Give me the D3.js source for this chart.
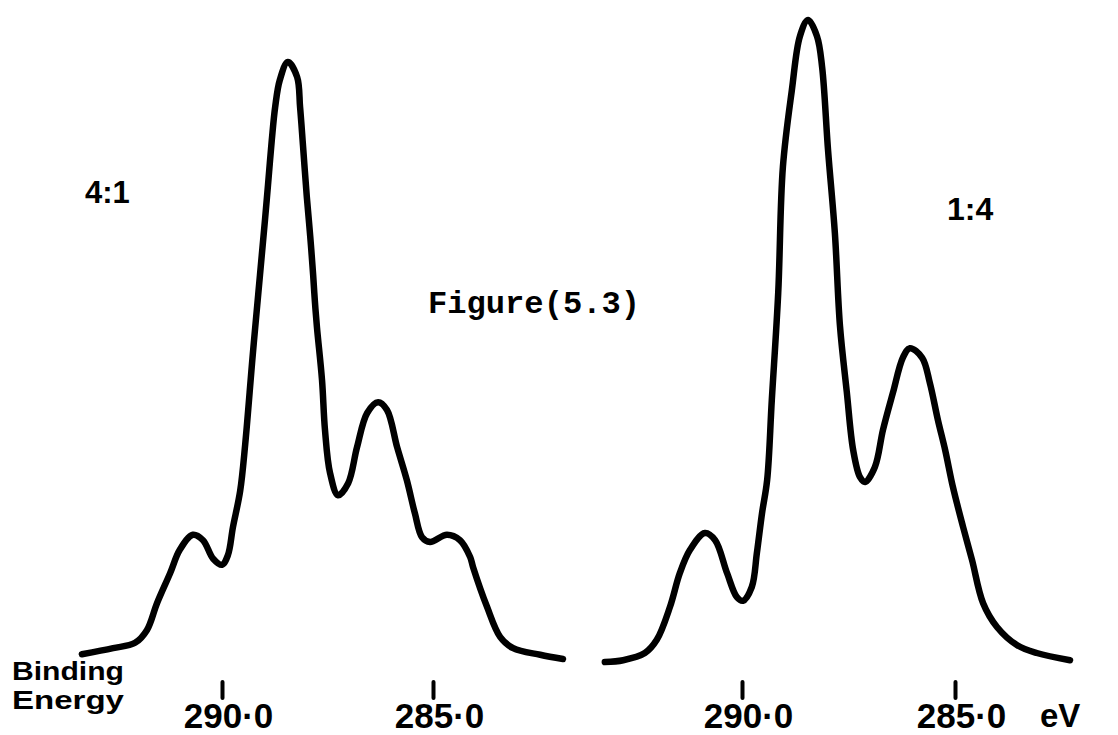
<!DOCTYPE html>
<html>
<head>
<meta charset="utf-8">
<script src="https://cdn.jsdelivr.net/npm/d3@7"></script>
<style>
  html, body { margin: 0; padding: 0; background: #fff; }
  svg { display: block; }
</style>
</head>
<body>
<svg id="chart" width="1118" height="735"></svg>
<script>
// C 1s photoelectron spectra of two blend compositions (binding energy in eV, relative counts)
const leftEnergy = [293.32, 292.58, 292.06, 291.78, 291.54, 291.23, 291.00, 290.69, 290.45, 290.21,
  290.00, 289.86, 289.74, 289.57, 289.45, 289.27, 289.10, 288.98, 288.91,
  288.82, 288.74, 288.63, 288.44, 288.22, 288.15, 288.08, 287.99, 287.91, 287.84,
  287.80, 287.75, 287.63, 287.56, 287.44, 287.25, 287.01, 286.80, 286.56, 286.30,
  286.09, 285.85, 285.62, 285.43, 285.26, 285.07, 284.67, 284.36, 284.12, 284.05,
  283.72, 283.41, 283.10, 282.46, 281.92];
const leftCounts = [1.3, 2.3, 3.2, 5.3, 9.8, 14.8, 18.7, 21.2, 20.3, 17.2,
  16.2, 17.8, 22.5, 28.5, 36.3, 51.3, 64.5, 73.8, 79.5,
  87.0, 92.5, 97.0, 100.0, 97.5, 92.5, 86.0, 77.5, 71.0, 64.5,
  60.2, 55.8, 47.0, 38.7, 31.5, 27.8, 29.8, 35.8, 41.5, 43.3,
  42.0, 35.8, 30.3, 24.8, 20.8, 20.0, 21.2, 20.3, 17.5, 15.8,
  9.2, 4.2, 2.3, 1.2, 0.5];

const rightEnergy = [293.22, 292.79, 292.28, 292.00, 291.69, 291.46, 291.22, 290.87, 290.63, 290.35,
  290.12, 289.98, 289.77, 289.65, 289.53, 289.41, 289.30, 289.15, 289.04, 288.83,
  288.64, 288.45, 288.24, 288.12, 287.98, 287.82, 287.70, 287.54, 287.39, 287.23,
  287.11, 286.88, 286.69, 286.46, 286.22, 286.06, 285.77, 285.59, 285.40, 285.23,
  285.05, 284.81, 284.60, 284.34, 284.01, 283.54, 283.08, 282.30];
const rightCounts = [0.0, 0.3, 1.5, 3.7, 9.2, 14.8, 18.7, 21.5, 20.3, 14.8,
  10.8, 10.2, 12.5, 18.2, 24.8, 30.3, 43.7, 61.5, 82.5, 95.3,
  104.3, 107.0, 104.3, 99.2, 85.3, 71.5, 56.0, 45.0, 35.3, 30.8,
  30.0, 32.5, 38.7, 44.8, 50.8, 52.3, 50.7, 46.5, 40.3, 35.3,
  29.2, 22.5, 17.0, 9.8, 5.8, 2.8, 1.5, 0.3];

const tickValues = [290, 285];
const tickLabels = ["290·0", "285·0"];
const panelLabels = ["4:1", "1:4"];
const axisTitle = ["Binding", "Energy"];
const unitLabel = "eV";
const figureTitle = "Figure(5.3)";

const svg = d3.select("#chart");
const ink = "#000";

// Binding energy increases to the left in each panel
const xLeft = d3.scaleLinear().domain([290, 285]).range([222, 433]);
const xRight = d3.scaleLinear().domain([290, 285]).range([742, 955]);
const y = d3.scaleLinear().domain([0, 100]).range([662, 62]);

function drawPanel(energy, counts, x) {
  const pts = energy.map((e, i) => [e, counts[i]]);
  const line = d3.line()
    .x(d => x(d[0]))
    .y(d => y(d[1]))
    .curve(d3.curveCatmullRom.alpha(0.5));
  svg.append("path")
    .datum(pts)
    .attr("d", line)
    .attr("fill", "none")
    .attr("stroke", ink)
    .attr("stroke-width", 6.5)
    .attr("stroke-linecap", "round")
    .attr("stroke-linejoin", "round");

  const axis = d3.axisBottom(x)
    .tickValues(tickValues)
    .tickFormat((d, i) => tickLabels[i])
    .tickSize(16)
    .tickPadding(5);
  const g = svg.append("g")
    .attr("transform", "translate(0,682)")
    .call(axis);
  g.select(".domain").remove();
  g.selectAll(".tick line")
    .attr("stroke", ink)
    .attr("stroke-width", 4)
    .attr("stroke-linecap", "round");
  g.selectAll(".tick text")
    .attr("fill", ink)
    .attr("dx", 6)
    .style("font-family", "'Liberation Sans', Arial, sans-serif")
    .style("font-weight", "bold")
    .style("font-size", "35px");
}

drawPanel(leftEnergy, leftCounts, xLeft);
drawPanel(rightEnergy, rightCounts, xRight);

const sansBold = "'Liberation Sans', Arial, sans-serif";

// composition labels
svg.append("text")
  .attr("x", 85).attr("y", 203)
  .attr("font-family", sansBold).attr("font-weight", "bold")
  .attr("font-size", 31).attr("fill", ink)
  .text(panelLabels[0]);
svg.append("text")
  .attr("x", 947).attr("y", 220)
  .attr("font-family", sansBold).attr("font-weight", "bold")
  .attr("font-size", 32).attr("fill", ink)
  .text(panelLabels[1]);

// axis title, two lines
svg.append("text")
  .attr("x", 12).attr("y", 680)
  .attr("font-family", sansBold).attr("font-weight", "bold")
  .attr("font-size", 25).attr("fill", ink)
  .attr("textLength", 112).attr("lengthAdjust", "spacingAndGlyphs")
  .text(axisTitle[0]);
svg.append("text")
  .attr("x", 12).attr("y", 709)
  .attr("font-family", sansBold).attr("font-weight", "bold")
  .attr("font-size", 25).attr("fill", ink)
  .attr("textLength", 112).attr("lengthAdjust", "spacingAndGlyphs")
  .text(axisTitle[1]);

// unit
svg.append("text")
  .attr("x", 1040).attr("y", 727)
  .attr("font-family", sansBold).attr("font-weight", "bold")
  .attr("font-size", 33).attr("fill", ink)
  .text(unitLabel);

// typed figure caption
svg.append("text")
  .attr("x", 428).attr("y", 313)
  .attr("font-family", "'Liberation Mono', 'Courier New', monospace")
  .attr("font-weight", "bold")
  .attr("font-size", 32).attr("fill", ink)
  .attr("textLength", 212).attr("lengthAdjust", "spacingAndGlyphs")
  .text(figureTitle);
</script>
</body>
</html>
